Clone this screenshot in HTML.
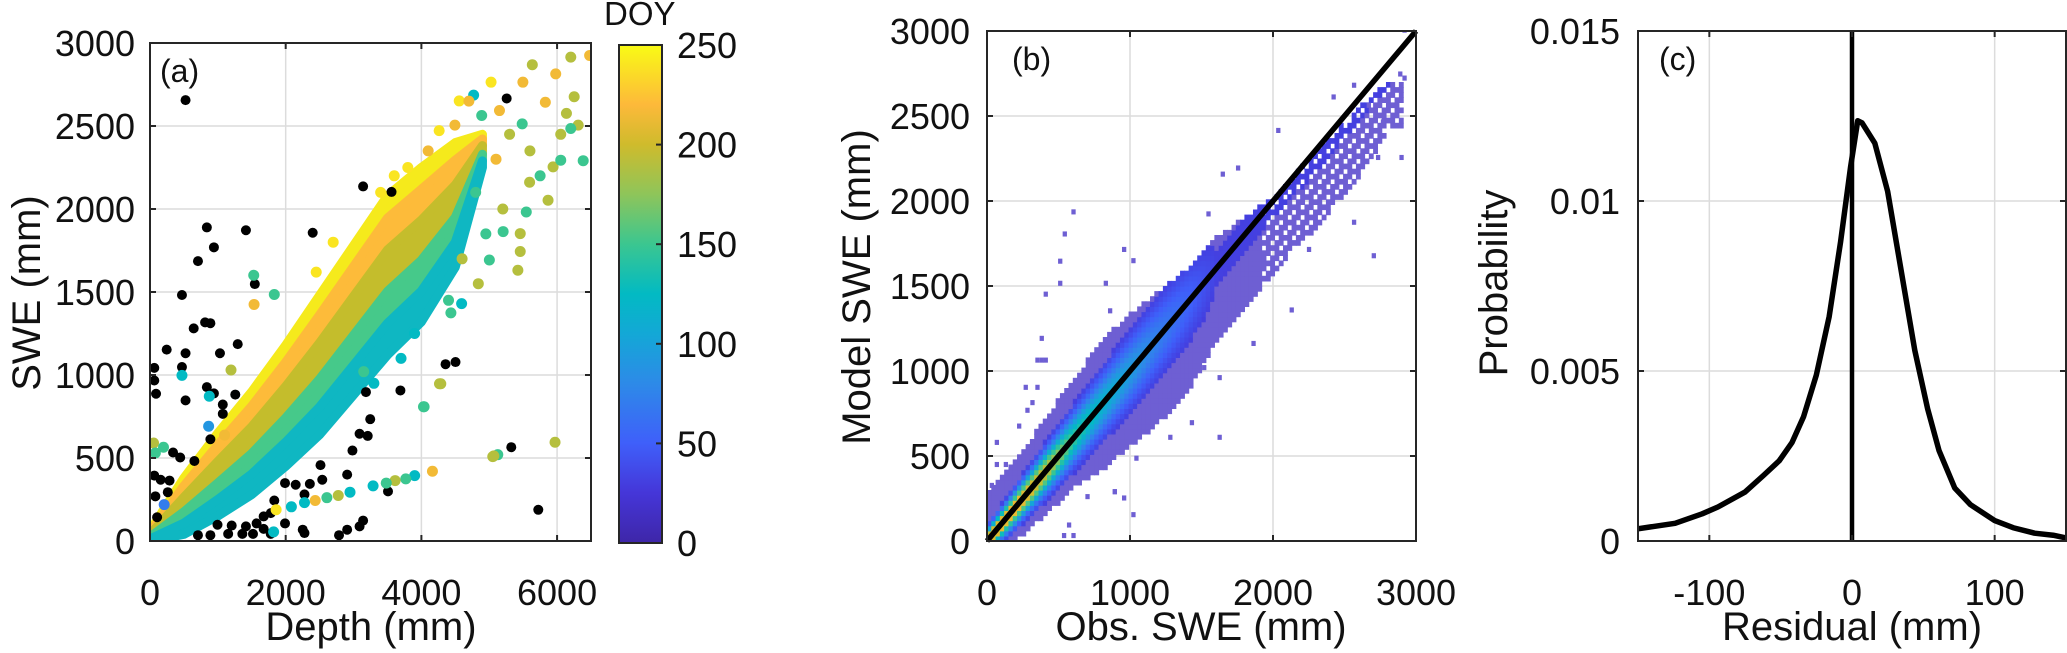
<!DOCTYPE html>
<html><head><meta charset="utf-8"><style>
html,body{margin:0;padding:0;background:#fff;}
svg{display:block;font-family:"Liberation Sans",Arial,sans-serif;}
</style></head>
<body>
<svg id="fig" width="2067" height="653" viewBox="0 0 2067 653" xmlns="http://www.w3.org/2000/svg">
<defs>
<linearGradient id="parula" x1="0" y1="1" x2="0" y2="0">
<stop offset="0" stop-color="#3e26a8"/><stop offset="0.1" stop-color="#4536d8"/><stop offset="0.2" stop-color="#3f5ffa"/>
<stop offset="0.32" stop-color="#2d8ae8"/><stop offset="0.42" stop-color="#13a8d6"/><stop offset="0.5" stop-color="#02bac3"/>
<stop offset="0.6" stop-color="#3bc690"/><stop offset="0.7" stop-color="#8ec55a"/><stop offset="0.8" stop-color="#cfbb2c"/>
<stop offset="0.88" stop-color="#fdb93a"/><stop offset="1" stop-color="#f9fb15"/>
</linearGradient>
<clipPath id="clipA"><rect x="150" y="43" width="441" height="498"/></clipPath>
<clipPath id="clipB"><rect x="987" y="31" width="429" height="510"/></clipPath>
<clipPath id="clipC"><rect x="1638" y="31" width="428" height="510"/></clipPath>
</defs>
</svg>
<script>
// ---------- Panel (a) data ----------
const aBandDepth = [0, 500, 1000, 1500, 2000, 2500, 3000, 3500, 4000, 4500, 4900];
const aBandUpper = [60, 380, 650, 900, 1180, 1480, 1780, 2080, 2250, 2400, 2450];
const aBandLower = [0, 40, 150, 280, 450, 640, 880, 1120, 1320, 1650, 2250];
const aBandColors = ["#f5ea1c", "#fdbb3a", "#c4bd2c", "#46c98a", "#0fb7c2"];
const aBandFrac = [0, 0.14, 0.34, 0.6, 0.8, 1];
const aBlackDepth = [524,838,1414,942,707,2398,3141,3560,471,1545,812,890,644,246,524,1293,1031,63,63,89,471,524,838,942,1073,1073,1257,4356,4503,3691,3183,890,340,445,654,63,157,288,79,262,105,5325,5723,5257,3508,2906,2539,2356,2277,3246,3209,2984,3089,1990,2786,2906,3089,3141,1414,1571,1675,1518,1780,1361,1204,1152,890,707,2251,2277,995,1780,1675,1990,2147,2513,1832];
const aBlackSWE = [2656,1889,1872,1769,1686,1857,2136,2103,1482,1548,1317,1312,1281,1153,1131,1186,1131,1043,967,887,1048,847,927,889,822,766,882,1065,1078,907,897,613,533,503,482,394,369,364,269,294,143,565,188,2666,299,400,369,344,281,734,633,545,646,106,35,68,88,123,88,106,73,43,43,43,93,43,35,35,68,48,98,168,148,349,339,457,244];
const aPtDepth = [6202,6480,5635,5980,6252,5027,5496,4770,4558,5151,5827,6138,6311,6202,6054,5486,4262,4494,4889,5941,6385,6054,5595,5867,5546,5457,5457,5422,4839,5205,5002,4593,4435,4286,4040,5970,5126,5052,4163,5068,3901,3770,3613,3482,3288,2948,2775,2607,2435,2277,2084,1859,1822,1534,1832,1529,1194,471,874,1099,52,79,199,864,209,4031,4267,3800,4100,3600,3400,3700,4700,5300,5100,4800,5200,4950,5600,5750,4600,4400,3900,3300,3150,2450,2700];
const aPtSWE = [2915,2925,2869,2814,2676,2764,2764,2686,2651,2593,2643,2576,2505,2485,2450,2513,2472,2505,2563,2254,2291,2294,2161,2053,1982,1852,1744,1631,1550,1864,1693,1430,1374,947,809,595,520,508,420,513,394,374,364,349,332,294,274,261,244,231,206,188,55,1425,1485,1601,1030,998,872,638,590,530,565,691,219,809,947,2250,2350,2200,2100,1100,2650,2450,2300,2100,2000,1850,2350,2200,1700,1450,1250,950,1020,1620,1800];
const aPtDOY = [190,215,190,215,190,240,215,125,240,215,215,190,190,150,190,150,240,215,150,190,150,150,190,190,150,190,190,190,190,150,150,125,150,190,150,190,150,190,215,190,125,150,190,150,125,125,190,150,215,125,125,240,125,215,150,150,190,125,125,215,190,150,150,90,70,150,190,240,215,240,240,125,215,190,215,150,190,150,190,150,190,150,125,125,150,240,240];
const aXTicks = [0, 2000, 4000, 6000];
const aYTicks = [0, 500, 1000, 1500, 2000, 2500, 3000];
const cbTicks = [0, 50, 100, 150, 200, 250];

// ---------- Panel (b) data ----------
const bBandObs = [0, 200, 400, 600, 800, 1000, 1200, 1400, 1600, 1800, 2000, 2200, 2400, 2600, 2800];
const bBandTop = [300, 480, 720, 950, 1180, 1330, 1470, 1600, 1780, 1900, 2020, 2200, 2380, 2550, 2700];
const bBandBot = [0, 30, 170, 340, 440, 580, 720, 900, 1200, 1400, 1580, 1780, 1950, 2150, 2450];
const bCoreObs = [0, 200, 400, 600, 800, 1000, 1200, 1400, 1600];
const bCoreLevel = [1.0, 0.95, 0.8, 0.55, 0.42, 0.32, 0.22, 0.14, 0.05];
const bIsoObs = [590,529,497,497,816,396,846,368,338,368,396,256,338,303,268,210,54,54,117,19,688,879,559,524,590,2552,2409,2655,2754,2884,2720,2905,2875,2905,2022,1741,1634,1534,2552,2690,2237,944,1009,2116,1849,1612,1504,1418,1612,1267,1030,879,944,1009];
const bIsoModel = [1921,1791,1631,1501,1501,1437,1339,1177,1049,1049,1049,889,889,799,754,661,565,435,435,312,246,275,79,17,17,2666,2597,2548,2450,2241,2241,2708,2732,2990,2400,2179,2143,1909,1860,1663,1700,1700,1634,1344,1147,946,1005,681,595,595,472,275,238,140];
const bXTicks = [0, 1000, 2000, 3000];
const bYTicks = [0, 500, 1000, 1500, 2000, 2500, 3000];

// ---------- Panel (c) data ----------
const cResid = [-150,-124,-105,-94,-75,-62,-51,-42,-34,-25,-16,-8,-1,4,7,16,25,35,44,53,61,72,83,100,113,128,141,150];
const cProb = [0.00036,0.00052,0.0008,0.001,0.00144,0.00193,0.00236,0.0029,0.00365,0.00488,0.0066,0.0088,0.011,0.01236,0.0123,0.0117,0.01028,0.00782,0.00561,0.00389,0.00266,0.00156,0.00107,0.0006,0.00039,0.00023,0.00017,0.00009];
const cXTicks = [-100, 0, 100];
const cYTicks = [0, 0.005, 0.01, 0.015];
const cYTickLabels = ["0", "0.005", "0.01", "0.015"];

// ---------- helpers ----------
const NS = "http://www.w3.org/2000/svg";
const svg = document.getElementById("fig");
function mk(tag, attrs, parent) {
  const e = document.createElementNS(NS, tag);
  for (const k in attrs) e.setAttribute(k, attrs[k]);
  (parent || svg).appendChild(e);
  return e;
}
function lin(d0, d1, p0, p1) { return v => p0 + (v - d0) / (d1 - d0) * (p1 - p0); }
function interp(xs, ys, x) {
  if (x <= xs[0]) return ys[0];
  for (let i = 1; i < xs.length; i++) if (x <= xs[i]) { const t = (x - xs[i-1]) / (xs[i] - xs[i-1]); return ys[i-1] + t * (ys[i] - ys[i-1]); }
  return ys[ys.length - 1];
}
const parStops = [[0,[62,38,168]],[0.1,[69,54,216]],[0.2,[63,95,250]],[0.32,[45,138,232]],[0.42,[19,168,214]],[0.5,[2,186,195]],[0.6,[59,198,144]],[0.7,[142,197,90]],[0.8,[207,187,44]],[0.88,[253,185,58]],[1,[249,251,21]]];
function parula(t) {
  t = Math.max(0, Math.min(1, t));
  for (let i = 1; i < parStops.length; i++) if (t <= parStops[i][0]) {
    const a = parStops[i-1], b = parStops[i], f = (t - a[0]) / (b[0] - a[0]);
    const c = a[1].map((v, j) => Math.round(v + f * (b[1][j] - v)));
    return "rgb(" + c.join(",") + ")";
  }
  return "rgb(249,251,21)";
}
const FS = 36, TFS = 40;
function grid(xs, ys, xsc, ysc, x0, x1, y0, y1, name) {
  const g = mk("g", {});
  
  
  xs.forEach(v => { const l = mk("line", {x1: xsc(v), x2: xsc(v), y1: y0, y2: y1, stroke: "#dcdcdc", "stroke-width": 1.5}, g);
    
     });
  ys.forEach(v => { const l = mk("line", {x1: x0, x2: x1, y1: ysc(v), y2: ysc(v), stroke: "#dcdcdc", "stroke-width": 1.5}, g);
    
     });
}
function frame(x0, x1, y0, y1, xs, ys, xsc, ysc, name) {
  const g = mk("g", {});
  
  
  mk("rect", {x: x0, y: y1, width: x1 - x0, height: y0 - y1, fill: "none", stroke: "#262626", "stroke-width": 2}, g);
  xs.forEach(v => { mk("line", {x1: xsc(v), x2: xsc(v), y1: y0, y2: y0 - 6, stroke: "#262626", "stroke-width": 2}, g); mk("line", {x1: xsc(v), x2: xsc(v), y1: y1, y2: y1 + 6, stroke: "#262626", "stroke-width": 2}, g); });
  ys.forEach(v => { mk("line", {x1: x0, x2: x0 + 6, y1: ysc(v), y2: ysc(v), stroke: "#262626", "stroke-width": 2}, g); mk("line", {x1: x1, x2: x1 - 6, y1: ysc(v), y2: ysc(v), stroke: "#262626", "stroke-width": 2}, g); });
}
function text(str, x, y, anchor, size, name, rot) {
  const t = mk("text", {x: x, y: y, "text-anchor": anchor, "font-size": size, fill: "#111"});
  if (rot) t.setAttribute("transform", "rotate(-90 " + x + " " + y + ")");
  t.textContent = str;
  
  
  return t;
}

// ================= Panel (a) =================
const aX = lin(0, 6500, 150, 591), aY = lin(0, 3000, 541, 43);
grid(aXTicks, aYTicks, aX, aY, 150, 591, 541, 43, "panel-a-grid");
const aMarks = mk("g", {"clip-path": "url(#clipA)"});


for (let k = 0; k < aBandColors.length; k++) {
  const f0 = aBandFrac[k], f1 = aBandFrac[k+1];
  const top = aBandDepth.map((d, i) => [aX(d), aY(aBandUpper[i] - f0 * (aBandUpper[i] - aBandLower[i]))]);
  const bot = aBandDepth.map((d, i) => [aX(d), aY(aBandUpper[i] - f1 * (aBandUpper[i] - aBandLower[i]))]).reverse();
  const p = mk("polygon", {points: top.concat(bot).map(q => q.join(",")).join(" "), fill: aBandColors[k], stroke: aBandColors[k], "stroke-width": 9, "stroke-linejoin": "round"}, aMarks);
  
  
}
aBlackDepth.forEach((d, i) => {
  const c = mk("circle", {cx: aX(d), cy: aY(aBlackSWE[i]), r: 5, fill: "#000"}, aMarks);
  
  
});
aPtDepth.forEach((d, i) => {
  const c = mk("circle", {cx: aX(d), cy: aY(aPtSWE[i]), r: 5.5, fill: parula(aPtDOY[i] / 250)}, aMarks);
  
  
});
frame(150, 591, 541, 43, aXTicks, aYTicks, aX, aY, "panel-a-axes");
aXTicks.forEach(v => text(String(v), aX(v), 605, "middle", FS, "x-tick-label"));
aYTicks.forEach(v => text(String(v), 135, aY(v) + 13, "end", FS, "y-tick-label"));
text("Depth (mm)", 371, 640, "middle", TFS, "x-axis-title");
text("SWE (mm)", 40, 293, "middle", TFS, "y-axis-title", true);
text("(a)", 160, 82, "start", 32, "panel-label-a");
// colorbar
const cbY = lin(0, 250, 543, 45);
const cb = mk("rect", {x: 619, y: 45, width: 43, height: 498, fill: "url(#parula)", stroke: "#262626", "stroke-width": 2});


cbTicks.forEach(v => {
  mk("line", {x1: 656, x2: 662, y1: cbY(v), y2: cbY(v), stroke: "#262626", "stroke-width": 2});
  text(String(v), 677, cbY(v) + 13, "start", FS, "colorbar-tick-label");
});
text("DOY", 604, 25, "start", 33, "colorbar-title");

// ================= Panel (b) =================
const bX = lin(0, 3000, 987, 1416), bY = lin(0, 3000, 541, 31);
grid(bXTicks, bYTicks, bX, bY, 987, 1416, 541, 31, "panel-b-grid");
const bMarks = mk("g", {"clip-path": "url(#clipB)"});


const BIN = 30;
for (let o = 0; o < 2900; o += BIN) {
  const top = interp(bBandObs, bBandTop, o), bot = interp(bBandObs, bBandBot, o);
  for (let m = Math.floor(bot / BIN) * BIN; m < top; m += BIN) {
    if (o > 1900 && ((o / BIN) * 5 + (m / BIN) * 3) % 7 < 2) continue;
    const lvl = interp(bCoreObs, bCoreLevel, o);
    const w = 60 + o * 0.12;
    const d = (m + BIN / 2) - (o + BIN / 2);
    const t = 0.08 + lvl * Math.exp(-(d * d) / (w * w)) * 0.92;
    const r = mk("rect", {x: bX(o), y: bY(m + BIN), width: bX(BIN) - bX(0) + 0.6, height: bY(0) - bY(BIN) + 0.6, fill: t < 0.12 ? "#6e5fd3" : parula(t)}, bMarks);
    
    
  }
}
bIsoObs.forEach((o, i) => {
  const r = mk("rect", {x: bX(o), y: bY(bIsoModel[i] + BIN), width: bX(BIN) - bX(0), height: bY(0) - bY(BIN), fill: "#6e5fd3"}, bMarks);
  
  
});
const oneToOne = mk("line", {x1: bX(0), y1: bY(0), x2: bX(3000), y2: bY(3000), stroke: "#000", "stroke-width": 5.5});


frame(987, 1416, 541, 31, bXTicks, bYTicks, bX, bY, "panel-b-axes");
bXTicks.forEach(v => text(String(v), bX(v), 605, "middle", FS, "x-tick-label"));
bYTicks.forEach(v => text(String(v), 970, bY(v) + 13, "end", FS, "y-tick-label"));
text("Obs. SWE (mm)", 1201, 640, "middle", TFS, "x-axis-title");
text("Model SWE (mm)", 870, 287, "middle", TFS, "y-axis-title", true);
text("(b)", 1012, 70, "start", 32, "panel-label-b");

// ================= Panel (c) =================
const cX = lin(-150, 150, 1638, 2066), cY = lin(0, 0.015, 541, 31);
grid(cXTicks, cYTicks, cX, cY, 1638, 2066, 541, 31, "panel-c-grid");
const cMarks = mk("g", {"clip-path": "url(#clipC)"});


const zl = mk("line", {x1: cX(0), x2: cX(0), y1: 31, y2: 541, stroke: "#000", "stroke-width": 4.5}, cMarks);


const pdf = mk("polyline", {points: cResid.map((r, i) => cX(r) + "," + cY(cProb[i])).join(" "), fill: "none", stroke: "#000", "stroke-width": 5.5, "stroke-linejoin": "round"}, cMarks);


frame(1638, 2066, 541, 31, cXTicks, cYTicks, cX, cY, "panel-c-axes");
cXTicks.forEach(v => text(String(v), cX(v), 605, "middle", FS, "x-tick-label"));
cYTicks.forEach((v, i) => text(cYTickLabels[i], 1620, cY(v) + 13, "end", FS, "y-tick-label"));
text("Residual (mm)", 1852, 640, "middle", TFS, "x-axis-title");
text("Probability", 1507, 283, "middle", TFS, "y-axis-title", true);
text("(c)", 1659, 70, "start", 32, "panel-label-c");
</script>
</body></html>
